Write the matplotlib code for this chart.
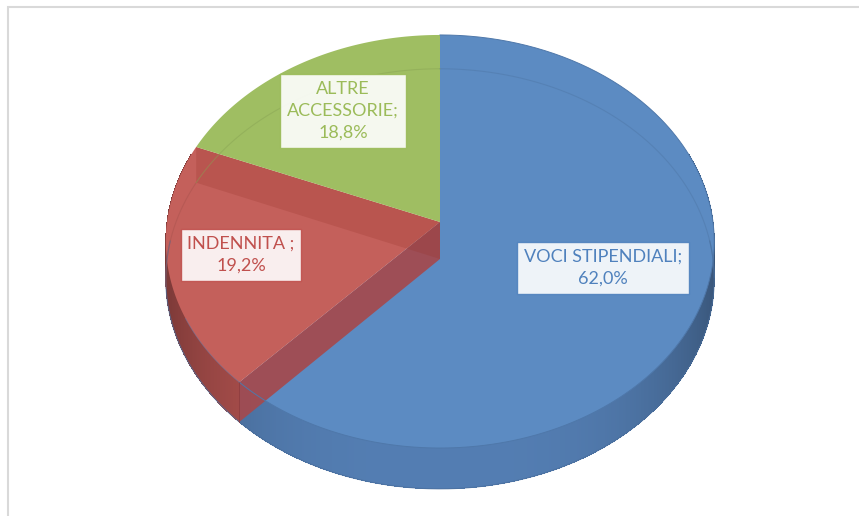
import numpy as np
import matplotlib.pyplot as plt
from matplotlib.collections import PolyCollection
from matplotlib.colors import to_rgb

# quote delle voci di spesa
labels = ['VOCI STIPENDIALI;', 'INDENNITA ;', 'ALTRE\nACCESSORIE;']
shares = [62.0, 19.2, 18.8]
top_colors = ['#5c8bc2', '#c4605b', '#9fbe62']
side_colors = ['#5580b6', '#b85552', '#8fae55']
text_colors = ['#4f81bd', '#c0504d', '#9bbb59']
label_pos = [(603, 268), (241, 255), (343, 111)]

# geometria della torta 3D (pixel)
CX, CY = 440, 222
A, B = 273, 204.7
K = 0.0944
DEPTH = 37

plt.rcParams['font.family'] = ['Lato', 'DejaVu Sans']

fig = plt.figure(figsize=(8.59, 5.16), dpi=100)
ax = fig.add_axes([0, 0, 1, 1])
ax.set_xlim(0, 859)
ax.set_ylim(516, 0)
ax.axis('off')


def proj(theta, r=1.0, z=0.0):
    t = np.radians(theta)
    x = r * np.sin(t)
    y = r * np.cos(t)
    s = 1.0 / (1.0 + K * y)
    return CX + A * x * s, CY - B * y * s + z * s


def shade(color, f):
    return tuple(np.clip(np.array(to_rgb(color)) * f, 0, 1))


edges = np.concatenate([[0], np.cumsum(shares) / sum(shares) * 360])

# pareti laterali esterne (solo la parte verso chi guarda)
strips, strip_cols = [], []
for i in range(len(shares)):
    lo, hi = max(edges[i], 70), min(edges[i + 1], 290)
    if hi <= lo:
        continue
    th = np.linspace(lo, hi, int(hi - lo) * 2 + 2)
    step = th[1] - th[0]
    for t0, t1 in zip(th[:-1], th[1:]):
        t1e = min(t1 + step * 0.6, hi)
        x0, y0 = proj(t0)
        x1, y1 = proj(t1e)
        x2, y2 = proj(t1e, z=DEPTH)
        x3, y3 = proj(t0, z=DEPTH)
        strips.append([(x0, y0), (x1, y1), (x2, y2), (x3, y3)])
        tm = np.radians((t0 + t1) / 2)
        f = 0.98 - 0.32 * abs(np.sin(tm)) ** 3
        strip_cols.append(shade(side_colors[i], f))
ax.add_collection(PolyCollection(strips, facecolors=strip_cols,
                                 edgecolors='none', antialiased=False))

# bordo inferiore anteriore
th = np.linspace(85, 275, 300)
bx, by = proj(th, z=DEPTH)
ax.plot(bx, by, color='#4a6e9c', lw=0.8, alpha=0.7)


def top_face(i):
    th = np.linspace(edges[i], edges[i + 1], 300)
    x, y = proj(th)
    return np.column_stack([np.r_[CX, x], np.r_[CY, y]])


# fetta blu
ax.fill(*top_face(0).T, color=top_colors[0], lw=0)
th = np.linspace(edges[0], edges[1], 300)
ax.plot(*proj(th), color='#4f78aa', lw=0.7)

# parete radiale della fetta rossa verso il blu
t = edges[1]
wall = [(CX, CY), proj(t), proj(t, z=DEPTH), (CX, CY + DEPTH)]
ax.fill(*np.array(wall).T, color='#a44a4e', alpha=0.93, lw=0)
ax.plot(*np.array([proj(t), proj(t, z=DEPTH)]).T, color='#8e3e40', lw=0.6)
th = np.linspace(t, t + 20, 60)
ax.plot(*proj(th), color='#5b7fb5', lw=0.6, alpha=0.5)

# fetta rossa
ax.fill(*top_face(1).T, color=top_colors[1], lw=0)
t = edges[2]
wall = [(CX, CY), proj(t), proj(t, z=DEPTH), (CX, CY + DEPTH)]
ax.fill(*np.array(wall).T, color=(0.59, 0.2, 0.16), alpha=0.24, lw=0)

# fetta verde
ax.fill(*top_face(2).T, color=top_colors[2], lw=0)

# bordo inferiore visto in trasparenza
for i in range(len(shares)):
    lo, hi = edges[i], edges[i + 1]
    for a0, a1 in [(max(lo, 0), min(hi, 95)), (max(lo, 262), min(hi, 360))]:
        if a1 <= a0:
            continue
        th = np.linspace(a0, a1, 200)
        ax.plot(*proj(th, z=DEPTH), color=shade(top_colors[i], 0.85),
                lw=0.8, alpha=0.45)

# etichette
for i, (lab, val) in enumerate(zip(labels, shares)):
    txt = lab + '\n' + f'{val:.1f}'.replace('.', ',') + '%'
    ax.text(*label_pos[i], txt, ha='center', va='center', fontsize=13,
            color=text_colors[i], linespacing=1.45,
            bbox=dict(boxstyle='square,pad=0.38', facecolor='white',
                      alpha=0.9, edgecolor=text_colors[i], linewidth=1.0))

# cornice dell'area del grafico
ax.plot([7.5, 7.5, 859], [516, 6.5, 6.5], color='#d9d9d9', lw=1.5,
        solid_joinstyle='miter')

fig.savefig('out.png', dpi=100)
